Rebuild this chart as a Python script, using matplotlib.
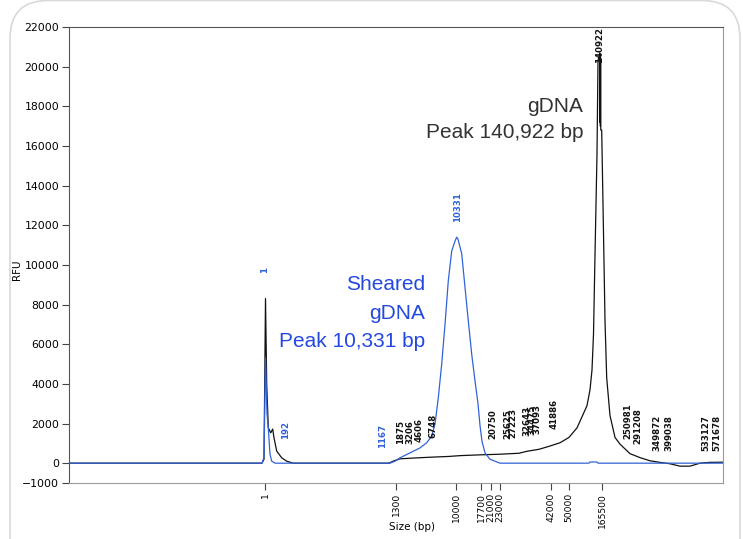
import matplotlib
matplotlib.use('Agg')
import matplotlib.pyplot as plt
from matplotlib.patches import FancyBboxPatch
import numpy as np

# x is the migration position along the run (arbitrary units), sizes are tick labels
size_ticks = [196, 327, 387, 412, 422, 431, 482, 500, 533]
size_labels = ['1', '1300', '10000', '17700', '21000', '23000', '42000', '50000', '165500']

# gDNA trace (black)
gdna_x = [0, 193, 195, 196.5, 197.7, 199.3, 201.7, 203.7, 205, 207.7, 212.7, 217.7, 224.3,
          320, 325, 331, 345, 361, 380, 391, 411, 430, 450, 458, 470, 480, 491, 500, 508,
          518, 521, 523, 524.5, 526, 528, 529, 530.8, 531.0, 531.2, 531.4, 531.6, 531.8,
          532.7, 534.3, 536, 537.7, 541, 546, 551, 561, 571, 581, 591, 601, 611, 621,
          631, 641, 654]
gdna_y = [0, 0, 200, 8300, 4000, 1790, 1530, 1720, 1280, 610, 270, 100, 0,
          0, 120, 220, 260, 300, 340, 380, 420, 450, 500, 600, 700, 850, 1030, 1300, 1780,
          2900, 3700, 4700, 6500, 10500, 15600, 20300, 20700, 17200, 20500, 17000, 20200, 16800,
          16800, 12200, 7200, 4300, 2400, 1300, 960, 480, 280, 120, 40, -30, -150, -150,
          0, 40, 50]

# sheared gDNA trace (blue)
shear_x = [0, 193, 195, 196.5, 198, 199.3, 201, 202.7, 206, 321, 326, 331, 341, 351,
           357.7, 362.7, 366, 369.3, 372.7, 376, 379.3, 382.7, 386, 387.7, 389, 392.7,
           396, 399.3, 402.7, 406, 409, 411, 413, 416, 421, 431, 520, 521, 528, 529, 654]
shear_y = [0, 0, 300, 5300, 2500, 1770, 450, 100, 0, 0, 100, 270, 520, 770,
           1030, 1370, 1970, 3300, 5000, 7000, 9200, 10700, 11200, 11400, 11300, 10570,
           8870, 7180, 5500, 4150, 3000, 1900, 1100, 520, 200, 0, 0, 60, 60, 0, 0]

# peak size labels
blue_peaks = ['1', '192', '1167', '10331']
blue_peak_x = [196, 217, 313.7, 388.3]
blue_peak_y = [9610, 1210, 760, 12140]

black_peaks = ['1875', '3206', '4606', '6748', '20750', '25625', '27223', '32643', '34475',
               '37093', '41886', '140922', '250981', '291208', '349872', '399038',
               '533127', '571678']
black_peak_x = [331.7, 341, 350.3, 363.5, 423.7, 438.7, 444.3, 457.7, 462.7,
                467.7, 485, 531, 559.3, 569.3, 587.7, 600.3, 637, 648.3]
black_peak_y = [960, 960, 1060, 1260, 1210, 1210, 1260, 1365, 1415,
                1465, 1720, 20180, 1210, 960, 600, 600, 600, 600]

black_col = '#111111'
blue_col = '#3262d9'
blue_txt = '#2448e0'

fig = plt.figure(figsize=(7.43, 5.39), dpi=100)
fig.patches.append(FancyBboxPatch((10, -40), 730, 578.5,
                                  boxstyle='round,pad=0,rounding_size=38',
                                  transform=None, fill=False, ec='#d9d9d9', lw=1.2))

ax = fig.add_axes([69 / 743, 1 - 483 / 539, 654 / 743, 456 / 539])
ax.plot(gdna_x, gdna_y, color=black_col, lw=0.9)
ax.plot(shear_x, shear_y, color=blue_col, lw=0.9)

ax.set_xlim(0, 654)
ax.set_ylim(-1000, 22000)
ax.set_yticks([-1000] + list(range(0, 22001, 2000)))
ax.set_xticks(size_ticks)
ax.set_xticklabels(size_labels, rotation=90)
ax.tick_params(length=5, color='#444444')
ax.tick_params(axis='y', labelsize=7.8, pad=2)
ax.tick_params(axis='x', labelsize=6.6, pad=2)
fig.text(17 / 743, 1 - 270 / 539, 'RFU', rotation=90, ha='center', va='center', fontsize=7.5)
fig.text(412 / 743, 1 - 527 / 539, 'Size (bp)', ha='center', va='center', fontsize=7.5)

for s in ['left', 'top']:
    ax.spines[s].set_color('#555555')
for s in ['right', 'bottom']:
    ax.spines[s].set_color('#9a9a9a')

for lab, x, y in zip(blue_peaks, blue_peak_x, blue_peak_y):
    ax.text(x, y, lab, rotation=90, ha='center', va='bottom', fontsize=6.2,
            fontweight='bold', color=blue_col)
for lab, x, y in zip(black_peaks, black_peak_x, black_peak_y):
    ax.text(x, y, lab, rotation=90, ha='center', va='bottom', fontsize=6.2,
            fontweight='bold', color=black_col)

ann = {'family': 'Liberation Sans', 'fontsize': 15}
ax.text(356, 9000, 'Sheared', ha='right', va='center', color=blue_txt, **ann)
ax.text(356, 7535, 'gDNA', ha='right', va='center', color=blue_txt, **ann)
ax.text(356, 6120, 'Peak 10,331 bp', ha='right', va='center', color=blue_txt, **ann)
ax.text(514, 18000, 'gDNA', ha='right', va='center', color='#333333', **ann)
ax.text(514, 16690, 'Peak 140,922 bp', ha='right', va='center', color='#333333', **ann)

fig.savefig('out.png', dpi=100)
